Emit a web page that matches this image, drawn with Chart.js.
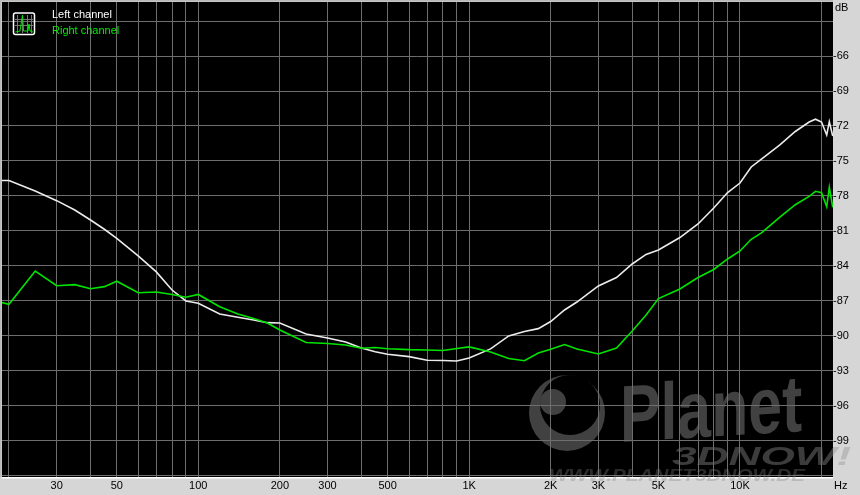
<!DOCTYPE html>
<html>
<head>
<meta charset="utf-8">
<script src="https://cdn.jsdelivr.net/npm/chart.js@4"></script>
<style>html,body{margin:0;padding:0;background:#d6d6d6;overflow:hidden}canvas{display:block}</style>
</head>
<body>
<canvas id="c" width="860" height="495"></canvas>
<script>
const frequencies = [18.85,20,25,30,35,40,45,50,60,70,80,90,100,120,140,160,180,200,250,300,350,400,450,500,600,700,800,900,1000,1200,1400,1600,1800,2000,2250,2500,3000,3500,4000,4500,5000,6000,7000,8000,9000,10000,11000,12000,14000,16000,18000,19000,20000,20900,21370,22000];
const leftChannel = [-76.67,-76.67,-77.57,-78.40,-79.20,-80.06,-80.85,-81.63,-83.14,-84.51,-86.06,-87.00,-87.20,-88.11,-88.40,-88.63,-88.86,-88.89,-89.83,-90.17,-90.51,-91.03,-91.35,-91.57,-91.77,-92.08,-92.10,-92.14,-91.89,-91.11,-90.00,-89.61,-89.37,-88.76,-87.77,-87.09,-85.71,-84.99,-83.83,-83.01,-82.63,-81.56,-80.40,-79.03,-77.70,-76.89,-75.51,-74.83,-73.63,-72.47,-71.66,-71.42,-71.66,-72.77,-71.63,-72.86];
const rightChannel = [-87.14,-87.28,-84.43,-85.69,-85.60,-85.95,-85.77,-85.31,-86.29,-86.23,-86.44,-86.68,-86.44,-87.49,-88.11,-88.50,-88.89,-89.49,-90.56,-90.64,-90.77,-91.05,-90.99,-91.09,-91.17,-91.20,-91.24,-91.07,-90.94,-91.37,-91.93,-92.12,-91.46,-91.13,-90.74,-91.11,-91.54,-91.03,-89.57,-88.20,-86.79,-85.97,-84.99,-84.30,-83.40,-82.71,-81.71,-81.17,-79.84,-78.75,-78.04,-77.60,-77.72,-78.92,-77.25,-78.97];
const freqGrid = [20,30,40,50,60,70,80,90,100,200,300,400,500,600,700,800,900,1000,2000,3000,4000,5000,6000,7000,8000,9000,10000,20000];
const freqLabelValues = [30,50,100,200,300,500,1000,2000,3000,5000,10000];
const freqLabelTexts = ['30','50','100','200','300','500','1K','2K','3K','5K','10K'];
const dbGrid = [-63,-66,-69,-72,-75,-78,-81,-84,-87,-90,-93,-96,-99,-102];
const dbLabelValues = [-66,-69,-72,-75,-78,-81,-84,-87,-90,-93,-96,-99];
const seriesNames = ['Left channel','Right channel'];
const seriesColors = ['#ececec','#00e400'];
const FONT = '11px "Liberation Sans", Arial, sans-serif';

function drawBrand(ctx){
  ctx.save();ctx.translate(672,465);ctx.scale(1.7,1);
  ctx.font='italic bold 26px "Liberation Sans",sans-serif';
  ctx.textBaseline='alphabetic';
  ctx.fillText('3DNOW!',0,0);ctx.restore();
}

const backdrop = {
  id:'backdrop',
  beforeDraw(chart){
    const {ctx,chartArea:a,width,height}=chart;
    ctx.save();
    ctx.fillStyle='#d6d6d6';ctx.fillRect(0,0,width,height);
    ctx.fillStyle='#000';ctx.fillRect(a.left,a.top,a.right-a.left,a.bottom-a.top);
    ctx.fillStyle='#b8b8b8';ctx.fillRect(0,0,a.right,1.5);ctx.fillRect(0,0,1.5,a.bottom);
    ctx.fillStyle='#fff';ctx.fillRect(a.left,a.bottom,a.right-a.left,1.5);
    // watermark logo
    ctx.save();ctx.beginPath();ctx.rect(a.left,a.top,a.right-a.left,a.bottom-a.top);ctx.clip();
    ctx.fillStyle='#414141';
    ctx.beginPath();ctx.arc(567,413,38,0,Math.PI*2);ctx.fill();
    ctx.fillStyle='#000';
    ctx.beginPath();ctx.arc(570,405,30,0,Math.PI*2);ctx.fill();
    ctx.fillStyle='#414141';
    ctx.beginPath();ctx.arc(553,402,13,0,Math.PI*2);ctx.fill();
    ctx.save();ctx.translate(620,442);ctx.transform(1,-0.06,0,1,0,0);ctx.scale(0.92,1.22);
    ctx.font='bold 66px "Liberation Sans Narrow","Liberation Sans",sans-serif';ctx.textBaseline='alphabetic';
    ctx.fillText('Planet',0,0);ctx.restore();
    ctx.fillStyle='#3c3c3c';
    drawBrand(ctx);
    ctx.restore();
    ctx.restore();
  },
  afterDraw(chart){
    const {ctx,chartArea:a,width,height}=chart;
    ctx.save();
    ctx.fillStyle='rgba(130,130,130,0.33)';
    ctx.save();ctx.beginPath();ctx.rect(a.right,a.top,width-a.right,height-a.top);ctx.clip();drawBrand(ctx);ctx.restore();
    ctx.font='italic bold 17px "Liberation Sans",sans-serif';
    ctx.textBaseline='alphabetic';
    ctx.save();ctx.translate(549,481);ctx.scale(1.22,1);ctx.fillText('WWW.PLANET3DNOW.DE',0,0);ctx.restore();
    ctx.font=FONT;ctx.fillStyle='#000';ctx.textBaseline='middle';
    ctx.fillText('dB',835,7.5);ctx.fillText('Hz',834,486);
    // legend icon
    ctx.strokeStyle='#fff';ctx.lineWidth=1.5;
    ctx.beginPath();ctx.roundRect(13.5,13,21,21.5,2);ctx.stroke();
    ctx.strokeStyle='#777';ctx.lineWidth=1;ctx.beginPath();
    [17.5,22.5,27.5,31.5].forEach(x=>{ctx.moveTo(x,15);ctx.lineTo(x,33);});
    [19.5,25.5].forEach(y=>{ctx.moveTo(15,y);ctx.lineTo(33,y);});ctx.stroke();
    ctx.strokeStyle='#00e400';ctx.beginPath();
    ctx.moveTo(15.5,32);ctx.lineTo(20,31);ctx.lineTo(22.5,15);ctx.lineTo(23.5,31);ctx.lineTo(28,31);ctx.lineTo(29,24);ctx.lineTo(30,31);ctx.lineTo(33,32);ctx.stroke();
    // legend text
    ctx.font=FONT;
    seriesNames.forEach((n,i)=>{ctx.fillStyle=i?'#00f000':'#fff';ctx.fillText(n,52,15+16*i);});
    ctx.restore();
  }
};

function noPad(s){s.paddingLeft=0;s.paddingRight=0;s.paddingTop=0;s.paddingBottom=0;}

new Chart(document.getElementById('c'),{
  type:'line',
  data:{
    labels:frequencies,
    datasets:[
      {label:seriesNames[0],data:frequencies.map((f,i)=>({x:f,y:leftChannel[i]})),borderColor:seriesColors[0],borderWidth:1.6,pointRadius:0,tension:0,order:2},
      {label:seriesNames[1],data:frequencies.map((f,i)=>({x:f,y:rightChannel[i]})),borderColor:seriesColors[1],borderWidth:1.6,pointRadius:0,tension:0,order:1}
    ]
  },
  options:{
    responsive:false,animation:false,devicePixelRatio:1,
    layout:{padding:{left:2,top:2,right:0,bottom:0}},
    plugins:{legend:{display:false},title:{display:false},tooltip:{enabled:false}},
    scales:{
      x:{
        type:'logarithmic',min:18.85,max:22050,
        afterBuildTicks(s){s.ticks=freqGrid.map(v=>({value:v}));},
        afterFit(s){s.height=18;noPad(s);},
        grid:{color:'#6e6e6e',lineWidth:1,drawTicks:false},border:{display:false},
        ticks:{autoSkip:false,maxRotation:0,minRotation:0,padding:2,color:'#000',font:{family:'"Liberation Sans", Arial, sans-serif',size:11},
          callback(v){const i=freqLabelValues.indexOf(v);return i<0?'':freqLabelTexts[i];}}
      },
      y:{
        type:'linear',position:'right',min:-102.09,max:-61.37,
        afterBuildTicks(s){s.ticks=dbGrid.map(v=>({value:v}));},
        afterFit(s){s.width=27;noPad(s);},
        grid:{color:'#6e6e6e',lineWidth:1,drawTicks:false},border:{display:false},
        ticks:{autoSkip:false,padding:0,color:'#000',font:{family:'"Liberation Sans", Arial, sans-serif',size:11},
          callback(v){return dbLabelValues.includes(v)?String(v):'';}}
      }
    }
  },
  plugins:[backdrop]
});
</script>
</body>
</html>
